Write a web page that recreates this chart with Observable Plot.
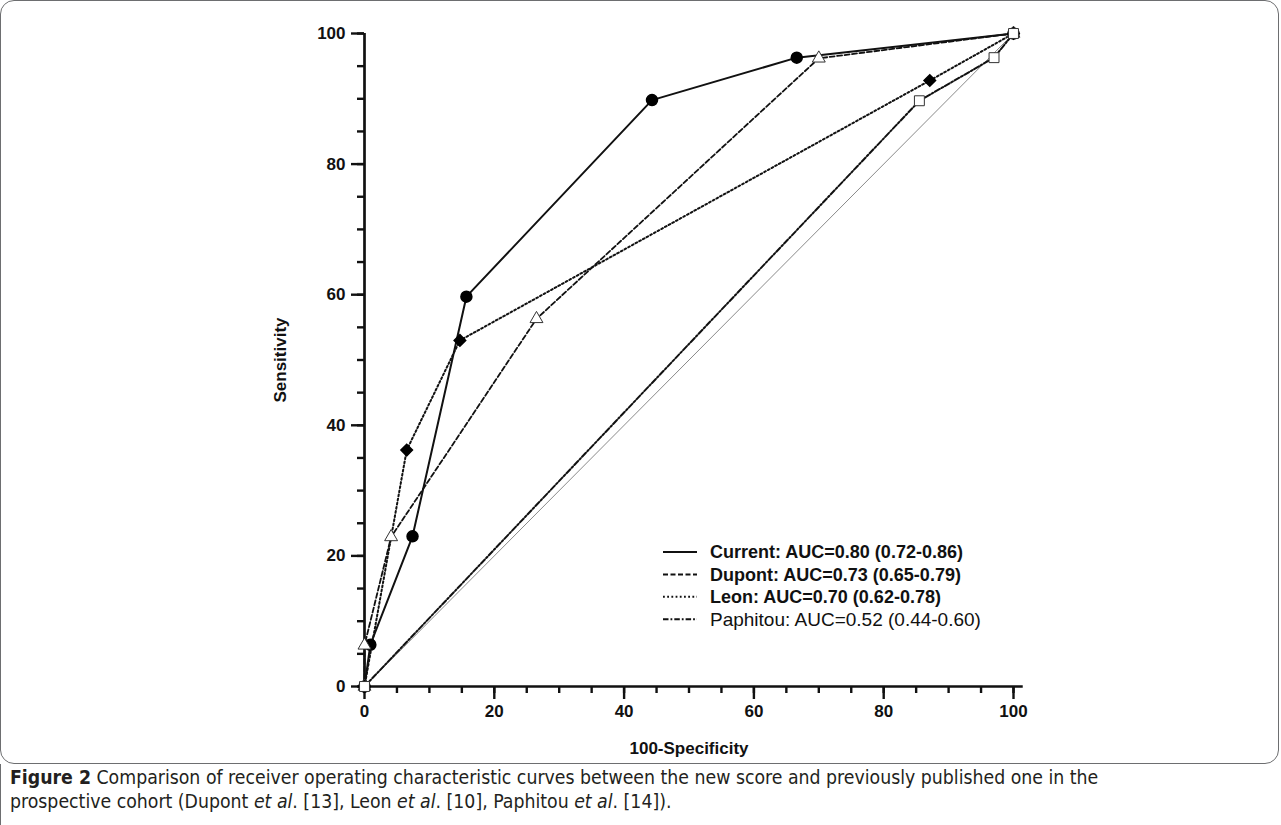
<!DOCTYPE html>
<html><head><meta charset="utf-8">
<script src="https://cdn.jsdelivr.net/npm/d3@7"></script>
<script src="https://cdn.jsdelivr.net/npm/@observablehq/plot@0.6"></script>
<style>
html,body{margin:0;padding:0;background:#fff;}
#wrap{position:relative;width:1281px;height:825px;overflow:hidden;}
#box{position:absolute;left:0;top:0;width:1277px;height:762px;border:1.5px solid #6d6e70;border-radius:14px;box-sizing:content-box;}
#capbox{position:absolute;left:0;top:764px;width:20px;height:80px;border-left:1.5px solid #6d6e70;}
#chart{position:absolute;left:0;top:0;}
#legend{position:absolute;left:0;top:0;}
#caption{position:absolute;left:10px;top:766px;width:1265px;font-family:"Liberation Sans Narrow","DejaVu Sans Condensed","Roboto Condensed",sans-serif;font-stretch:condensed;font-size:19.3px;line-height:24px;color:#231f20;}
#caption b{font-weight:bold;}
</style></head>
<body><div id="wrap">
<div id="box"></div>
<div id="capbox"></div>
<div id="chart"></div>
<svg id="legend" width="1281" height="765"></svg>
<div id="caption"><b>Figure 2</b> Comparison of receiver operating characteristic curves between the new score and previously published one in the<br>prospective cohort (Dupont <i>et al</i>. [13], Leon <i>et al</i>. [10], Paphitou <i>et al</i>. [14]).</div>
</div>
<script>
// ---- data ----
const currentX = [0, 0.9, 7.4, 15.7, 44.3, 66.6, 100];
const currentY = [0, 6.4, 23.0, 59.7, 89.8, 96.3, 100];
const dupontX = [0, 0, 4.1, 26.5, 70.0, 100];
const dupontY = [0, 6.3, 22.9, 56.3, 96.2, 100];
const leonX = [0, 6.5, 14.7, 87.1, 100];
const leonY = [0, 36.2, 53.0, 92.8, 100];
const paphitouX = [0, 85.5, 97.0, 100];
const paphitouY = [0, 89.7, 96.3, 100];
const diagonal = [0, 100];
const majorTicks = [0, 20, 40, 60, 80, 100];
const minorTicks = d3.range(0, 101, 5);
const xLabel = "100-Specificity";
const yLabel = "Sensitivity";
const legendLabels = [
  "Current: AUC=0.80 (0.72-0.86)",
  "Dupont: AUC=0.73 (0.65-0.79)",
  "Leon: AUC=0.70 (0.62-0.78)",
  "Paphitou: AUC=0.52 (0.44-0.60)"
];
const dashes = [null, "5,2.5", "1.8,2.4", "5.5,2,1.8,2"];
const xAxisEnd = 101.5;

const zipXY = (xs, ys) => xs.map((x, i) => ({x, y: ys[i]}));
const current = zipXY(currentX, currentY);
const dupont = zipXY(dupontX, dupontY);
const leon = zipXY(leonX, leonY);
const paphitou = zipXY(paphitouX, paphitouY);
const diag = zipXY(diagonal, diagonal);

const font = '"Liberation Sans", Arial, sans-serif';
const chart = Plot.plot({
  width: 1281, height: 765,
  marginLeft: 364, marginRight: 268, marginTop: 33, marginBottom: 79,
  x: {domain: [0, 100]},
  y: {domain: [0, 100]},
  style: {fontFamily: font, fontSize: "17px", fontWeight: "bold", color: "#111", background: "transparent", overflow: "visible"},
  marks: [
    Plot.axisX(minorTicks, {tickSize: 7, strokeWidth: 2.4, tickFormat: () => "", label: null}),
    Plot.axisX(majorTicks, {tickSize: 13, strokeWidth: 2.4, tickPadding: 5, label: null}),
    Plot.axisY(minorTicks, {tickSize: 7, strokeWidth: 2.4, tickFormat: () => "", label: null}),
    Plot.axisY(majorTicks, {tickSize: 13, strokeWidth: 2.4, tickPadding: 6, label: null}),
    Plot.text([xLabel], {text: d => d, frameAnchor: "bottom", lineAnchor: "middle", textAnchor: "middle", dy: 62, fontSize: 17, fontWeight: "bold", fill: "#111"}),
    Plot.text([yLabel], {text: d => d, frameAnchor: "left", textAnchor: "middle", lineAnchor: "middle", rotate: -90, dx: -84, fontSize: 17, fontWeight: "bold", fill: "#111"}),
    Plot.ruleY([0], {x1: 0, x2: xAxisEnd, strokeWidth: 2.7}),
    Plot.ruleX([0], {y1: 0, y2: 100, strokeWidth: 2.7}),
    Plot.line(diag, {x: "x", y: "y", stroke: "#8a8a8a", strokeWidth: 1}),
    Plot.line(paphitou, {x: "x", y: "y", stroke: "#111", strokeWidth: 2, strokeDasharray: dashes[3]}),
    Plot.line(leon, {x: "x", y: "y", stroke: "#111", strokeWidth: 2, strokeDasharray: dashes[2]}),
    Plot.line(dupont, {x: "x", y: "y", stroke: "#111", strokeWidth: 1.8, strokeDasharray: dashes[1]}),
    Plot.line(current, {x: "x", y: "y", stroke: "#111", strokeWidth: 2}),
    Plot.dot(current, {x: "x", y: "y", symbol: "circle", r: 5.5, fill: "#000", stroke: "#000"}),
    Plot.dot(dupont, {x: "x", y: "y", symbol: "triangle", r: 4.8, fill: "#fff", stroke: "#333", strokeWidth: 1}),
    Plot.dot(leon, {x: "x", y: "y", symbol: "diamond2", r: 5.2, fill: "#000", stroke: "#000"}),
    Plot.dot(paphitou, {x: "x", y: "y", symbol: "square", r: 5.6, fill: "#fff", stroke: "#333", strokeWidth: 1})
  ]
});
document.getElementById("chart").appendChild(chart);

// legend
const lg = d3.select("#legend");
legendLabels.forEach((t, i) => {
  const cy = 552 + i * 22.4;
  lg.append("line").attr("x1", 663).attr("x2", 697).attr("y1", cy).attr("y2", cy)
    .attr("stroke", "#111").attr("stroke-width", 2)
    .attr("stroke-dasharray", dashes[i]);
  lg.append("text").attr("x", 710).attr("y", cy).attr("dy", "0.36em")
    .attr("font-family", font).attr("font-size", i === 3 ? 19 : 18)
    .attr("font-weight", i === 3 ? "normal" : "bold")
    .attr("fill", "#111").text(t);
});
</script>
</body></html>
